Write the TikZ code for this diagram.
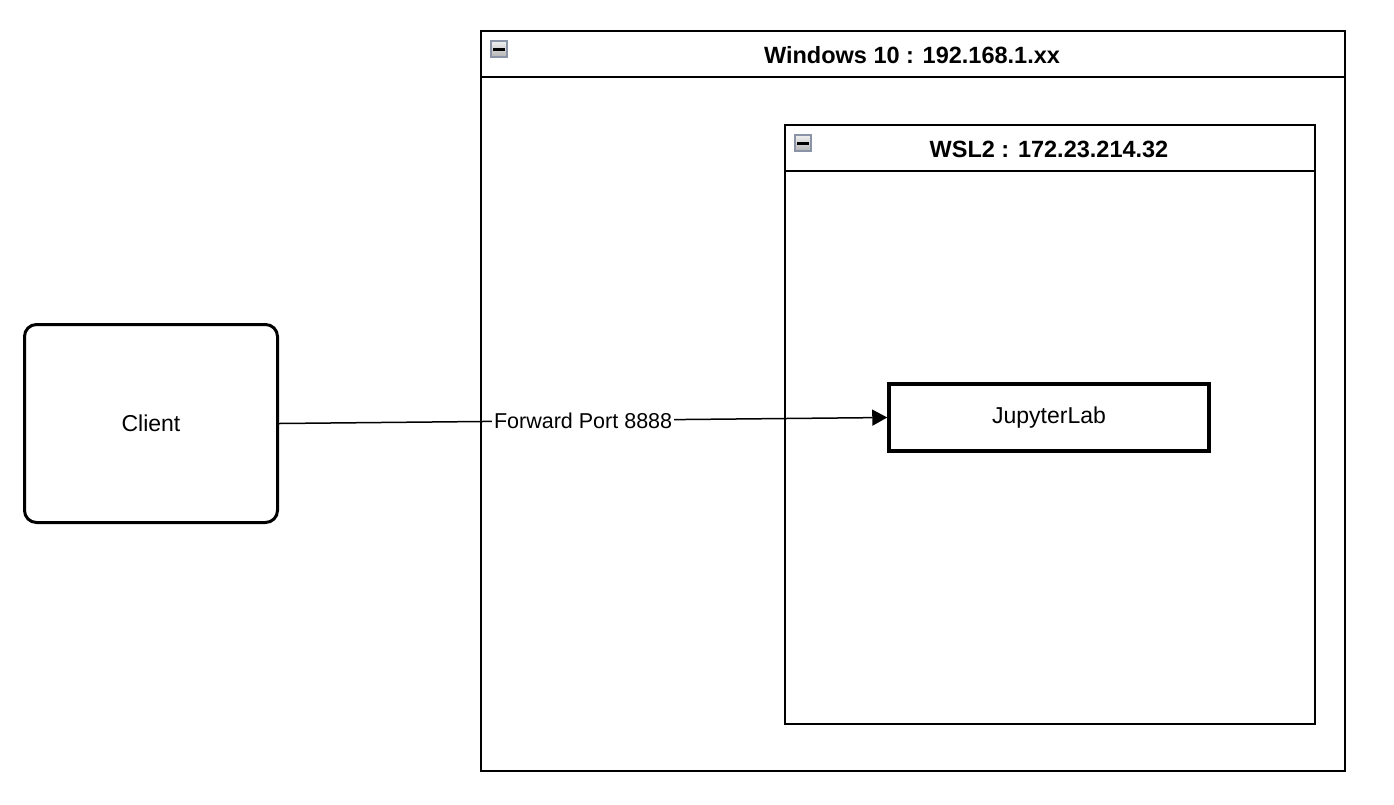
\documentclass[tikz,border=0pt]{standalone}
\usepackage{fontspec}
\setmainfont{Liberation Sans}
\usetikzlibrary{arrows.meta,positioning}
\begin{document}
\begin{tikzpicture}[x=1pt,y=-1pt,
  container/.style={draw=black,line width=2pt},
  titletext/.style={font=\fontsize{23.5}{27}\selectfont\bfseries,inner sep=0pt},
  minusicon/.style={draw={rgb,255:red,138;green,148;blue,166},line width=2pt,top color={rgb,255:red,240;green,240;blue,240},bottom color={rgb,255:red,180;green,180;blue,180},minimum size=16pt,inner sep=0pt},
  clientbox/.style={draw=black,line width=3pt,rounded corners=12pt,minimum width=253pt,minimum height=198pt,font=\fontsize{23}{27}\selectfont},
  appbox/.style={draw=black,line width=3.5pt,minimum width=320pt,minimum height=67pt,font=\fontsize{23}{27}\selectfont},
  link/.style={draw=black,line width=1.5pt,-{Triangle[length=15pt,width=16pt]}},
  linklabel/.style={fill=white,inner sep=2pt,font=\fontsize{21.5}{25}\selectfont}
]
\useasboundingbox (0,0) rectangle (1394,804);
% Windows container
\draw[container] (481,31) rectangle (1345,771);
\draw[container] (481,77) -- (1345,77);
\node[titletext] (wintitle) at (912,55) {Windows 10 : 192.168.1.xx};
\node[minusicon] (winicon) at (499,49) {};
\draw[line width=3pt] (winicon.center) ++(-6,0) -- ++(12,0);
% WSL container
\draw[container] (785,125) rectangle (1315,724);
\draw[container] (785,171) -- (1315,171);
\node[titletext] (wsltitle) at (1049,149) {WSL2 : 172.23.214.32};
\node[minusicon] (wslicon) at (803,143) {};
\draw[line width=3pt] (wslicon.center) ++(-6,0) -- ++(12,0);
% nodes
\node[clientbox] (client) at (151,423.5) {\raisebox{-2pt}{Client}};
\node[appbox] (jupyter) at (1049,417.5) {\raisebox{-2pt}{JupyterLab}};
% connector
\draw[link] (client.east) -- node[linklabel] (fwd) {Forward Port 8888} (jupyter.west);
\end{tikzpicture}
\end{document}
